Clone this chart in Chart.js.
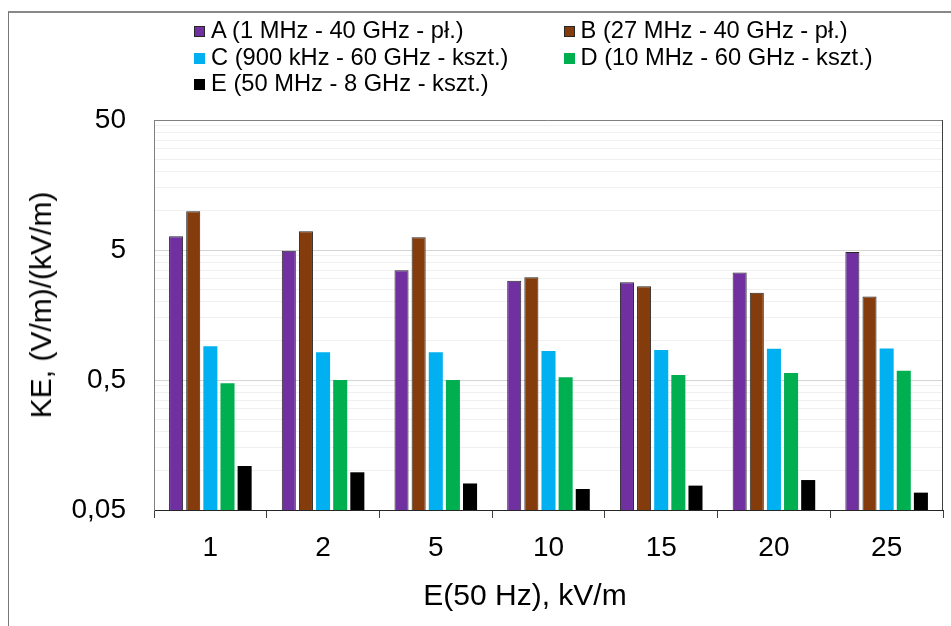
<!DOCTYPE html>
<html>
<head>
<meta charset="utf-8">
<script src="https://cdn.jsdelivr.net/npm/chart.js@4/dist/chart.umd.min.js"></script>
<style>
  body { margin: 0; background: #fff; font-family: "Liberation Sans", Arial, sans-serif; }
  #wrap { position: relative; width: 951px; height: 626px; overflow: hidden; }
  #frame { position: absolute; left: 8px; top: 11px; width: 960px; height: 640px;
           border-top: 2px solid #888; border-left: 1px solid #777; }
  #chart-box { position: absolute; left: 0; top: 0; width: 951px; height: 626px; }
  .legend-item { position: absolute; font-size: 23.7px; color: #000; white-space: nowrap;
                 line-height: 26px; }
  .legend-item span.sw { display: inline-block; width: 11px; height: 11px; margin-right: 6px;
                 vertical-align: 1px; box-sizing: border-box; }
  #ytitle { position: absolute; left: 41px; top: 305px; font-size: 30px; white-space: nowrap;
            transform: translate(-50%, -50%) rotate(-90deg); }
  #xtitle { position: absolute; left: 525px; top: 595px; font-size: 30px; white-space: nowrap;
            transform: translate(-50%, -50%); }
</style>
</head>
<body>
<div id="wrap">
  <div id="frame"></div>
  <div id="chart-box"><canvas id="keChart"></canvas></div>
  <div id="legend"></div>
  <div id="ytitle">KE, (V/m)/(kV/m)</div>
  <div id="xtitle">E(50 Hz), kV/m</div>
</div>
<script>
const categories = ["1", "2", "5", "10", "15", "20", "25"];

const seriesNames = [
  "A (1 MHz - 40 GHz - pł.)",
  "B (27 MHz - 40 GHz - pł.)",
  "C (900 kHz - 60 GHz - kszt.)",
  "D (10 MHz - 60 GHz - kszt.)",
  "E (50 MHz - 8 GHz - kszt.)"
];

const seriesA = [6.37, 4.94, 3.49, 2.90, 2.82, 3.35, 4.83];
const seriesB = [9.93, 6.96, 6.26, 3.08, 2.63, 2.35, 2.19];
const seriesC = [0.908, 0.817, 0.817, 0.836, 0.85, 0.871, 0.875];
const seriesD = [0.471, 0.50, 0.50, 0.525, 0.546, 0.567, 0.59];
const seriesE = [0.109, 0.0975, 0.080, 0.0725, 0.077, 0.085, 0.068];

const yMajorTicks = [0.05, 0.5, 5, 50];
const yTickLabels = ["0,05", "0,5", "5", "50"];

const fillColors   = ["#7030A0", "#843C0C", "#00B0F0", "#00B050", "#000000"];
const borderColors = ["#262626", "#262626", "#00B0F0", "#00B050", "#000000"];

function buildLegend() {
  const legend = document.getElementById("legend");
  // two columns, filled row by row like the Excel legend
  seriesNames.forEach((name, i) => {
    const col = i % 2;
    const row = Math.floor(i / 2);
    const div = document.createElement("div");
    div.className = "legend-item";
    div.style.left = (194 + col * 369.5) + "px";
    div.style.top = (17 + row * 26.6) + "px";
    const bw = i < 2 ? "1px solid #262626" : "none";
    div.innerHTML = `<span class="sw" style="background:${fillColors[i]};border:${bw}"></span>${name}`;
    legend.appendChild(div);
  });
}

function isMajor(v) {
  return yMajorTicks.some(m => Math.abs(v - m) / m < 1e-6);
}

const frameBox = {
  id: "frameBox",
  afterDraw(chart) {
    const { ctx, chartArea: a } = chart;
    ctx.save();
    ctx.lineWidth = 1;
    ctx.strokeStyle = "#808080";
    ctx.beginPath();
    ctx.moveTo(a.left, a.top + 0.5);
    ctx.lineTo(a.right, a.top + 0.5);
    ctx.stroke();
    ctx.strokeStyle = "#404040";
    ctx.beginPath();
    ctx.moveTo(a.right - 0.5, a.top);
    ctx.lineTo(a.right - 0.5, a.bottom);
    ctx.stroke();
    ctx.restore();
  }
};

function createChart() {
  const ctx = document.getElementById("keChart");
  const data = [seriesA, seriesB, seriesC, seriesD, seriesE];

  const datasets = data.map((vals, i) => ({
    label: seriesNames[i],
    data: vals,
    backgroundColor: fillColors[i],
    borderColor: borderColors[i],
    borderWidth: i < 2 ? 1 : 0,
    categoryPercentage: 0.76,
    barPercentage: 0.82
  }));

  new Chart(ctx, {
    type: "bar",
    data: { labels: categories, datasets },
    plugins: [frameBox],
    options: {
      responsive: true,
      maintainAspectRatio: false,
      animation: false,
      layout: { padding: { top: 120, right: 8, bottom: 0, left: 0 } },
      plugins: {
        legend: { display: false },
        tooltip: { enabled: false }
      },
      scales: {
        x: {
          afterFit(scale) { scale.height = 116; },
          grid: {
            offset: true,
            drawOnChartArea: false,
            drawTicks: true,
            tickLength: 8,
            color: "#404040"
          },
          border: { color: "#262626", width: 1 },
          ticks: {
            color: "#000",
            font: { family: "'Liberation Sans', Arial, sans-serif", size: 28 },
            padding: 13,
            maxRotation: 0
          }
        },
        y: {
          type: "logarithmic",
          min: 0.05,
          max: 50,
          afterFit(scale) { scale.width = 154; },
          afterBuildTicks(scale) {
            const ticks = [];
            for (let d = 0; d < yMajorTicks.length - 1; d++) {
              for (let k = 1; k <= 9; k++) {
                ticks.push({ value: yMajorTicks[d] * k });
              }
            }
            ticks.push({ value: yMajorTicks[yMajorTicks.length - 1] });
            scale.ticks = ticks;
          },
          grid: {
            drawTicks: false,
            color: (c) => (c.tick && isMajor(c.tick.value) ? "#d4d4d4" : "#f0f0f0"),
            lineWidth: 1
          },
          border: { color: "#808080", width: 1 },
          ticks: {
            autoSkip: false,
            padding: 28,
            color: "#000",
            font: { family: "'Liberation Sans', Arial, sans-serif", size: 28 },
            callback: (value) => {
              const idx = yMajorTicks.findIndex(m => Math.abs(value - m) / m < 1e-6);
              return idx >= 0 ? yTickLabels[idx] : "";
            }
          }
        }
      }
    }
  });
}

document.addEventListener("DOMContentLoaded", () => {
  buildLegend();
  createChart();
});
</script>
</body>
</html>
